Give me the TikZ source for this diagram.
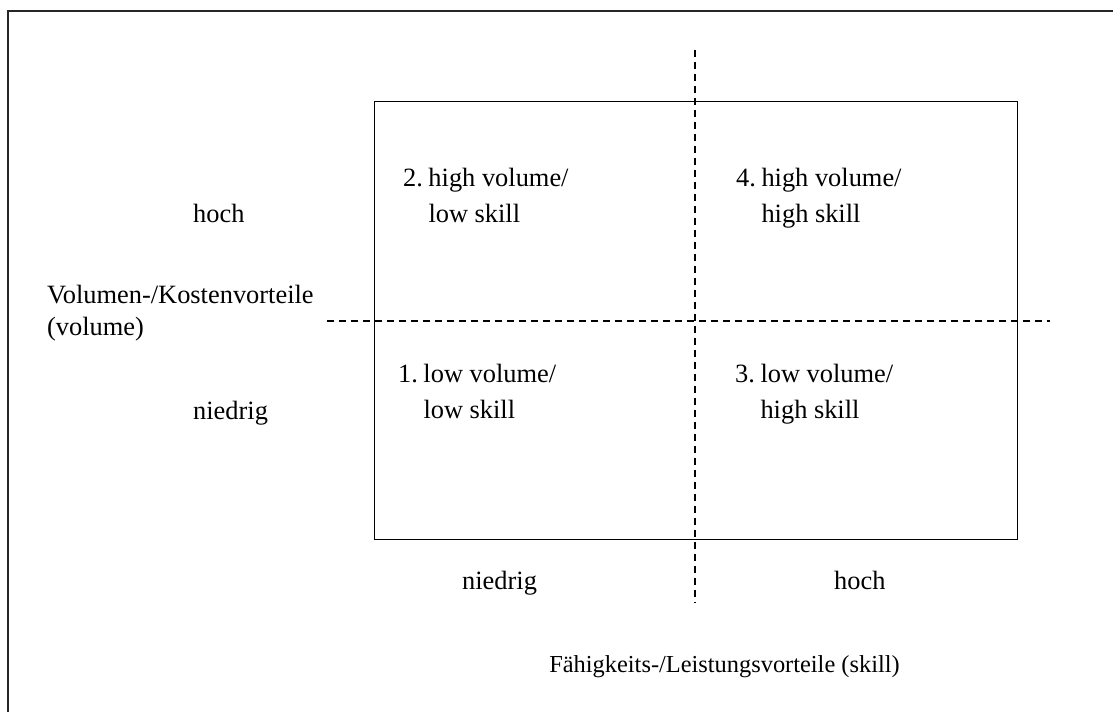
\documentclass[tikz,border=0pt]{standalone}
\usepackage{fontspec}
\setmainfont{Liberation Serif}
\begin{document}
\begin{tikzpicture}[x=1pt,y=-1pt,
  lbl/.style={inner sep=0pt,anchor=base west,font=\fontsize{26.4}{32}\selectfont},
  quad/.style={inner sep=0pt,anchor=base west,font=\fontsize{26.4}{36}\selectfont},
  divider/.style={line width=1.2pt,dash pattern=on 7pt off 5pt},
  frameline/.style={line width=1.6pt,black!85},
  cell/.style={draw,line width=1.2pt,inner sep=0pt,minimum width=643pt,minimum height=438pt,anchor=north west}]
  \useasboundingbox (0,0) rectangle (1113,712);

  % outer frame (top and left edges)
  \coordinate (fbl) at (8,712);
  \coordinate (ftl) at (8,11);
  \coordinate (ftr) at (1113,11);
  \draw[frameline] (fbl) -- (ftl) -- (ftr);

  % matrix box
  \node[cell] (grid) at (374,101) {};

  % dashed dividers
  \coordinate (vtop) at (695,50);
  \coordinate (vbot) at (695,603);
  \coordinate (hleft) at (327,321);
  \coordinate (hright) at (1050,321);
  \draw[divider] (vtop) -- (vbot);
  \draw[divider] (hleft) -- (hright);

  % quadrant labels
  \node[quad] (q2) at (403,186) {\begin{tabular}[t]{@{}l@{\hspace{5.5pt}}l@{}}2.&high volume/\\&low skill\end{tabular}};
  \node[quad] (q4) at (736,186) {\begin{tabular}[t]{@{}l@{\hspace{5.5pt}}l@{}}4.&high volume/\\&high skill\end{tabular}};
  \node[quad] (q1) at (398,382) {\begin{tabular}[t]{@{}l@{\hspace{5.5pt}}l@{}}1.&low volume/\\&low skill\end{tabular}};
  \node[quad] (q3) at (735,382) {\begin{tabular}[t]{@{}l@{\hspace{5.5pt}}l@{}}3.&low volume/\\&high skill\end{tabular}};

  % vertical axis labels
  \node[lbl] (yhigh) at (193,222) {hoch};
  \node[lbl] (ylow) at (193,419) {niedrig};
  \node[lbl] (yname) at (47,303) {\begin{tabular}[t]{@{}l@{}}Volumen-/Kostenvorteile\\(volume)\end{tabular}};

  % horizontal axis labels
  \node[lbl] (xlow) at (462,589) {niedrig};
  \node[lbl] (xhigh) at (834,589) {hoch};
  \node[lbl,anchor=base,font=\fontsize{24.4}{30}\selectfont] (xname) at (724.5,672) {Fähigkeits-/Leistungsvorteile (skill)};
\end{tikzpicture}
\end{document}
